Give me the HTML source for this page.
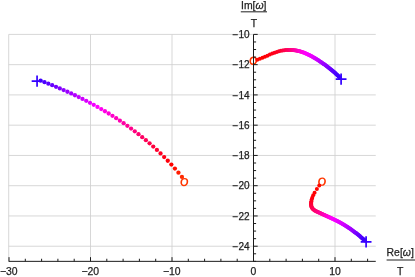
<!DOCTYPE html>
<html><head><meta charset="utf-8"><title>plot</title>
<style>
html,body{margin:0;padding:0;background:#fff;}
body{width:415px;height:277px;overflow:hidden;position:relative;font-family:"Liberation Sans",sans-serif;}
svg{position:absolute;left:0;top:0;display:block;will-change:transform;}
</style></head><body>
<svg width="415" height="277" viewBox="0 0 415 277">
<g stroke="#d0d0d0" stroke-width="0.85" fill="none">
<line x1="8.70" y1="34.40" x2="8.70" y2="261.35"/>
<line x1="90.50" y1="34.40" x2="90.50" y2="261.35"/>
<line x1="172.00" y1="34.40" x2="172.00" y2="261.35"/>
<line x1="335.00" y1="34.40" x2="335.00" y2="261.35"/>
<line x1="8.70" y1="246.22" x2="375.75" y2="246.22"/>
<line x1="8.70" y1="215.96" x2="375.75" y2="215.96"/>
<line x1="8.70" y1="185.70" x2="375.75" y2="185.70"/>
<line x1="8.70" y1="155.44" x2="375.75" y2="155.44"/>
<line x1="8.70" y1="125.18" x2="375.75" y2="125.18"/>
<line x1="8.70" y1="94.92" x2="375.75" y2="94.92"/>
<line x1="8.70" y1="64.66" x2="375.75" y2="64.66"/>
<line x1="8.70" y1="34.40" x2="375.75" y2="34.40"/>
</g>
<path d="M31.67 81.06H42.47M37.07 75.46V86.66" stroke="#3300ff" stroke-width="1.7" fill="none"/>
<path d="M-3.90 0A3.90 4.15 0 1 0 3.90 0A3.90 4.15 0 1 0 -3.90 0ZM-2.25 0A2.25 2.80 0 1 0 2.25 0A2.25 2.80 0 1 0 -2.25 0Z" fill-rule="evenodd" transform="translate(184.30 182.05) skewX(-6)" fill="#ff3600"/>
<circle cx="40.62" cy="80.71" r="2.15" fill="#4000ff"/>
<circle cx="44.49" cy="82.17" r="2.15" fill="#4d00ff"/>
<circle cx="48.34" cy="83.67" r="2.15" fill="#5900ff"/>
<circle cx="52.18" cy="85.21" r="2.15" fill="#6600ff"/>
<circle cx="56.00" cy="86.78" r="2.15" fill="#7300ff"/>
<circle cx="59.81" cy="88.40" r="2.15" fill="#8000ff"/>
<circle cx="63.61" cy="90.05" r="2.15" fill="#8d00ff"/>
<circle cx="67.39" cy="91.74" r="2.15" fill="#9a00ff"/>
<circle cx="71.17" cy="93.47" r="2.15" fill="#a600ff"/>
<circle cx="74.94" cy="95.25" r="2.15" fill="#b300ff"/>
<circle cx="78.71" cy="97.07" r="2.15" fill="#c000ff"/>
<circle cx="82.47" cy="98.94" r="2.15" fill="#cd00ff"/>
<circle cx="86.22" cy="100.86" r="2.15" fill="#da00ff"/>
<circle cx="89.97" cy="102.83" r="2.15" fill="#e600ff"/>
<circle cx="93.72" cy="104.85" r="2.15" fill="#f300ff"/>
<circle cx="97.47" cy="106.93" r="2.15" fill="#ff00fe"/>
<circle cx="101.21" cy="109.06" r="2.15" fill="#ff00f1"/>
<circle cx="104.95" cy="111.25" r="2.15" fill="#ff00e4"/>
<circle cx="108.69" cy="113.51" r="2.15" fill="#ff00d8"/>
<circle cx="112.43" cy="115.83" r="2.15" fill="#ff00cb"/>
<circle cx="116.17" cy="118.22" r="2.15" fill="#ff00be"/>
<circle cx="119.90" cy="120.68" r="2.15" fill="#ff00b1"/>
<circle cx="123.63" cy="123.22" r="2.15" fill="#ff00a4"/>
<circle cx="127.35" cy="125.83" r="2.15" fill="#ff0097"/>
<circle cx="131.07" cy="128.53" r="2.15" fill="#ff008b"/>
<circle cx="134.79" cy="131.31" r="2.15" fill="#ff007e"/>
<circle cx="138.50" cy="134.18" r="2.15" fill="#ff0071"/>
<circle cx="142.20" cy="137.14" r="2.15" fill="#ff0064"/>
<circle cx="145.89" cy="140.19" r="2.15" fill="#ff0057"/>
<circle cx="149.58" cy="143.35" r="2.15" fill="#ff004b"/>
<circle cx="153.25" cy="146.61" r="2.15" fill="#ff003e"/>
<circle cx="156.90" cy="149.97" r="2.15" fill="#ff0031"/>
<circle cx="160.54" cy="153.45" r="2.15" fill="#ff0024"/>
<circle cx="164.17" cy="157.05" r="2.15" fill="#ff0017"/>
<circle cx="167.77" cy="160.77" r="2.15" fill="#ff000b"/>
<circle cx="171.35" cy="164.61" r="2.15" fill="#ff0200"/>
<circle cx="174.91" cy="168.59" r="2.15" fill="#ff0f00"/>
<circle cx="178.44" cy="172.70" r="2.15" fill="#ff1c00"/>
<circle cx="181.94" cy="176.96" r="2.15" fill="#ff2900"/>
<path d="M-3.90 0A3.90 4.15 0 1 0 3.90 0A3.90 4.15 0 1 0 -3.90 0ZM-2.25 0A2.25 2.80 0 1 0 2.25 0A2.25 2.80 0 1 0 -2.25 0Z" fill-rule="evenodd" transform="translate(253.30 60.75) skewX(-6)" fill="#ff3600"/>
<path d="M335.70 79.10H346.50M341.10 73.50V84.70" stroke="#3300ff" stroke-width="1.7" fill="none"/>
<circle cx="257.27" cy="59.70" r="2.00" fill="#ff0900"/>
<circle cx="259.90" cy="58.83" r="2.00" fill="#ff0500"/>
<circle cx="262.47" cy="57.83" r="2.00" fill="#ff0100"/>
<circle cx="264.93" cy="56.78" r="2.00" fill="#ff0005"/>
<circle cx="267.39" cy="55.69" r="2.00" fill="#ff000b"/>
<circle cx="269.86" cy="54.60" r="2.00" fill="#ff0011"/>
<circle cx="272.25" cy="53.58" r="2.00" fill="#ff0017"/>
<circle cx="274.56" cy="52.67" r="2.00" fill="#ff001d"/>
<circle cx="276.81" cy="51.89" r="2.00" fill="#ff0022"/>
<circle cx="278.94" cy="51.27" r="2.00" fill="#ff0027"/>
<circle cx="280.86" cy="50.81" r="2.00" fill="#ff0032"/>
<circle cx="282.65" cy="50.47" r="2.00" fill="#ff003d"/>
<circle cx="284.30" cy="50.22" r="2.00" fill="#ff0048"/>
<circle cx="285.86" cy="50.06" r="2.00" fill="#ff0051"/>
<circle cx="287.27" cy="49.96" r="2.00" fill="#ff005a"/>
<circle cx="288.64" cy="49.91" r="2.00" fill="#ff0066"/>
<circle cx="289.91" cy="49.91" r="2.00" fill="#ff0071"/>
<circle cx="291.03" cy="49.94" r="2.00" fill="#ff007b"/>
<circle cx="292.15" cy="50.00" r="2.00" fill="#ff0085"/>
<circle cx="293.12" cy="50.08" r="2.00" fill="#ff008e"/>
<circle cx="294.09" cy="50.19" r="2.00" fill="#ff0097"/>
<circle cx="294.91" cy="50.30" r="2.00" fill="#ff009f"/>
<circle cx="295.73" cy="50.43" r="2.00" fill="#ff00a6"/>
<circle cx="296.50" cy="50.57" r="2.00" fill="#ff00ad"/>
<circle cx="297.31" cy="50.73" r="2.00" fill="#ff00b4"/>
<circle cx="298.08" cy="50.90" r="2.00" fill="#ff00bb"/>
<circle cx="298.88" cy="51.09" r="2.00" fill="#ff00c2"/>
<circle cx="299.64" cy="51.29" r="2.00" fill="#ff00c9"/>
<circle cx="300.39" cy="51.51" r="2.00" fill="#ff00d0"/>
<circle cx="301.19" cy="51.75" r="2.00" fill="#ff00d7"/>
<circle cx="301.94" cy="51.99" r="2.00" fill="#ff00de"/>
<circle cx="302.68" cy="52.25" r="2.00" fill="#ff00e6"/>
<circle cx="303.43" cy="52.52" r="2.00" fill="#ff00ea"/>
<circle cx="304.21" cy="52.82" r="2.00" fill="#ff00ee"/>
<circle cx="304.95" cy="53.11" r="2.00" fill="#ff00f3"/>
<circle cx="305.68" cy="53.41" r="2.00" fill="#ff00f7"/>
<circle cx="306.41" cy="53.73" r="2.00" fill="#ff00fc"/>
<circle cx="307.14" cy="54.05" r="2.00" fill="#fe00ff"/>
<circle cx="307.86" cy="54.39" r="2.00" fill="#fc00ff"/>
<circle cx="308.58" cy="54.73" r="2.00" fill="#f900ff"/>
<circle cx="309.30" cy="55.08" r="2.00" fill="#f600ff"/>
<circle cx="310.01" cy="55.45" r="2.00" fill="#f300ff"/>
<circle cx="310.72" cy="55.82" r="2.00" fill="#f100ff"/>
<circle cx="311.43" cy="56.20" r="2.00" fill="#ee00ff"/>
<circle cx="312.14" cy="56.58" r="2.00" fill="#eb00ff"/>
<circle cx="312.84" cy="56.98" r="2.00" fill="#e800ff"/>
<circle cx="313.54" cy="57.38" r="2.00" fill="#e600ff"/>
<circle cx="314.23" cy="57.79" r="2.00" fill="#e300ff"/>
<circle cx="314.88" cy="58.17" r="2.00" fill="#e000ff"/>
<circle cx="315.57" cy="58.59" r="2.00" fill="#dc00ff"/>
<circle cx="316.26" cy="59.01" r="2.00" fill="#d700ff"/>
<circle cx="316.94" cy="59.44" r="2.00" fill="#d200ff"/>
<circle cx="317.62" cy="59.87" r="2.00" fill="#cd00ff"/>
<circle cx="318.30" cy="60.31" r="2.00" fill="#c800ff"/>
<circle cx="318.97" cy="60.75" r="2.00" fill="#c300ff"/>
<circle cx="319.64" cy="61.19" r="2.00" fill="#be00ff"/>
<circle cx="320.30" cy="61.64" r="2.00" fill="#b900ff"/>
<circle cx="320.96" cy="62.08" r="2.00" fill="#b400ff"/>
<circle cx="321.62" cy="62.53" r="2.00" fill="#b000ff"/>
<circle cx="322.28" cy="62.99" r="2.00" fill="#ab00ff"/>
<circle cx="322.93" cy="63.44" r="2.00" fill="#a700ff"/>
<circle cx="323.58" cy="63.89" r="2.00" fill="#a200ff"/>
<circle cx="324.22" cy="64.35" r="2.00" fill="#9e00ff"/>
<circle cx="324.91" cy="64.84" r="2.00" fill="#9900ff"/>
<circle cx="325.54" cy="65.31" r="2.00" fill="#9500ff"/>
<circle cx="326.18" cy="65.77" r="2.00" fill="#9100ff"/>
<circle cx="326.81" cy="66.24" r="2.00" fill="#8c00ff"/>
<circle cx="327.48" cy="66.74" r="2.00" fill="#8700ff"/>
<circle cx="328.10" cy="67.22" r="2.00" fill="#8200ff"/>
<circle cx="328.72" cy="67.70" r="2.00" fill="#7e00ff"/>
<circle cx="329.38" cy="68.21" r="2.00" fill="#7900ff"/>
<circle cx="329.99" cy="68.70" r="2.00" fill="#7400ff"/>
<circle cx="330.60" cy="69.19" r="2.00" fill="#6f00ff"/>
<circle cx="331.24" cy="69.71" r="2.00" fill="#6a00ff"/>
<circle cx="331.85" cy="70.21" r="2.00" fill="#6600ff"/>
<circle cx="332.48" cy="70.74" r="2.00" fill="#6200ff"/>
<circle cx="333.08" cy="71.25" r="2.00" fill="#5e00ff"/>
<circle cx="333.67" cy="71.76" r="2.00" fill="#5a00ff"/>
<circle cx="334.29" cy="72.30" r="2.00" fill="#5700ff"/>
<circle cx="334.88" cy="72.82" r="2.00" fill="#5300ff"/>
<circle cx="335.46" cy="73.35" r="2.00" fill="#4f00ff"/>
<circle cx="336.07" cy="73.91" r="2.00" fill="#4c00ff"/>
<circle cx="336.65" cy="74.45" r="2.00" fill="#4800ff"/>
<circle cx="337.22" cy="74.98" r="2.00" fill="#4500ff"/>
<circle cx="337.82" cy="75.56" r="2.00" fill="#4200ff"/>
<circle cx="338.39" cy="76.11" r="2.00" fill="#4000ff"/>
<circle cx="338.95" cy="76.67" r="2.00" fill="#3d00ff"/>
<circle cx="339.50" cy="77.23" r="2.00" fill="#3b00ff"/>
<circle cx="340.05" cy="77.80" r="2.00" fill="#3800ff"/>
<path d="M-3.90 0A3.90 4.15 0 1 0 3.90 0A3.90 4.15 0 1 0 -3.90 0ZM-2.25 0A2.25 2.80 0 1 0 2.25 0A2.25 2.80 0 1 0 -2.25 0Z" fill-rule="evenodd" transform="translate(322.00 181.65) skewX(-6)" fill="#ff3600"/>
<path d="M360.70 241.80H371.50M366.10 236.20V247.40" stroke="#3300ff" stroke-width="1.7" fill="none"/>
<circle cx="319.25" cy="185.60" r="2.00" fill="#ff0900"/>
<circle cx="316.87" cy="189.07" r="2.00" fill="#ff0400"/>
<circle cx="314.59" cy="192.70" r="2.00" fill="#ff0001"/>
<circle cx="313.21" cy="195.37" r="2.00" fill="#ff0005"/>
<circle cx="312.28" cy="197.67" r="2.00" fill="#ff0009"/>
<circle cx="311.69" cy="199.58" r="2.00" fill="#ff0014"/>
<circle cx="311.34" cy="201.14" r="2.00" fill="#ff001d"/>
<circle cx="311.16" cy="202.41" r="2.00" fill="#ff0024"/>
<circle cx="311.08" cy="203.42" r="2.00" fill="#ff002a"/>
<circle cx="311.08" cy="204.23" r="2.00" fill="#ff002f"/>
<circle cx="311.13" cy="205.06" r="2.00" fill="#ff0034"/>
<circle cx="311.25" cy="205.82" r="2.00" fill="#ff003a"/>
<circle cx="311.44" cy="206.59" r="2.00" fill="#ff0040"/>
<circle cx="311.73" cy="207.35" r="2.00" fill="#ff0046"/>
<circle cx="312.11" cy="208.06" r="2.00" fill="#ff004c"/>
<circle cx="312.60" cy="208.70" r="2.00" fill="#ff0052"/>
<circle cx="313.17" cy="209.28" r="2.00" fill="#ff0058"/>
<circle cx="313.79" cy="209.78" r="2.00" fill="#ff005e"/>
<circle cx="314.42" cy="210.22" r="2.00" fill="#ff0064"/>
<circle cx="315.10" cy="210.63" r="2.00" fill="#ff006a"/>
<circle cx="315.81" cy="211.01" r="2.00" fill="#ff0070"/>
<circle cx="316.54" cy="211.38" r="2.00" fill="#ff0076"/>
<circle cx="317.28" cy="211.74" r="2.00" fill="#ff007c"/>
<circle cx="317.98" cy="212.07" r="2.00" fill="#ff0082"/>
<circle cx="318.72" cy="212.42" r="2.00" fill="#ff0088"/>
<circle cx="319.42" cy="212.75" r="2.00" fill="#ff008e"/>
<circle cx="320.16" cy="213.09" r="2.00" fill="#ff0094"/>
<circle cx="320.90" cy="213.43" r="2.00" fill="#ff009b"/>
<circle cx="321.59" cy="213.75" r="2.00" fill="#ff00a1"/>
<circle cx="322.33" cy="214.09" r="2.00" fill="#ff00a8"/>
<circle cx="323.06" cy="214.43" r="2.00" fill="#ff00ae"/>
<circle cx="323.80" cy="214.76" r="2.00" fill="#ff00b4"/>
<circle cx="324.53" cy="215.10" r="2.00" fill="#ff00bb"/>
<circle cx="325.26" cy="215.43" r="2.00" fill="#ff00c1"/>
<circle cx="325.99" cy="215.76" r="2.00" fill="#ff00c8"/>
<circle cx="326.72" cy="216.09" r="2.00" fill="#ff00cd"/>
<circle cx="327.45" cy="216.42" r="2.00" fill="#ff00d3"/>
<circle cx="328.18" cy="216.76" r="2.00" fill="#ff00d9"/>
<circle cx="328.90" cy="217.09" r="2.00" fill="#ff00df"/>
<circle cx="329.63" cy="217.42" r="2.00" fill="#ff00e4"/>
<circle cx="330.35" cy="217.76" r="2.00" fill="#ff00ea"/>
<circle cx="331.07" cy="218.09" r="2.00" fill="#ff00f0"/>
<circle cx="331.79" cy="218.43" r="2.00" fill="#ff00f5"/>
<circle cx="332.51" cy="218.77" r="2.00" fill="#ff00fb"/>
<circle cx="333.22" cy="219.11" r="2.00" fill="#fe00ff"/>
<circle cx="333.94" cy="219.45" r="2.00" fill="#fb00ff"/>
<circle cx="334.69" cy="219.82" r="2.00" fill="#f800ff"/>
<circle cx="335.40" cy="220.17" r="2.00" fill="#f600ff"/>
<circle cx="336.11" cy="220.52" r="2.00" fill="#f300ff"/>
<circle cx="336.82" cy="220.87" r="2.00" fill="#f000ff"/>
<circle cx="337.52" cy="221.23" r="2.00" fill="#ee00ff"/>
<circle cx="338.27" cy="221.62" r="2.00" fill="#eb00ff"/>
<circle cx="338.97" cy="221.99" r="2.00" fill="#e800ff"/>
<circle cx="339.67" cy="222.36" r="2.00" fill="#e500ff"/>
<circle cx="340.36" cy="222.74" r="2.00" fill="#e300ff"/>
<circle cx="341.06" cy="223.12" r="2.00" fill="#e000ff"/>
<circle cx="341.75" cy="223.50" r="2.00" fill="#dd00ff"/>
<circle cx="342.48" cy="223.92" r="2.00" fill="#db00ff"/>
<circle cx="343.17" cy="224.32" r="2.00" fill="#d800ff"/>
<circle cx="343.85" cy="224.72" r="2.00" fill="#d500ff"/>
<circle cx="344.54" cy="225.13" r="2.00" fill="#d100ff"/>
<circle cx="345.22" cy="225.55" r="2.00" fill="#cc00ff"/>
<circle cx="345.90" cy="225.97" r="2.00" fill="#c800ff"/>
<circle cx="346.58" cy="226.40" r="2.00" fill="#c300ff"/>
<circle cx="347.25" cy="226.84" r="2.00" fill="#bf00ff"/>
<circle cx="347.92" cy="227.28" r="2.00" fill="#ba00ff"/>
<circle cx="348.59" cy="227.72" r="2.00" fill="#b600ff"/>
<circle cx="349.26" cy="228.17" r="2.00" fill="#b200ff"/>
<circle cx="349.88" cy="228.60" r="2.00" fill="#ad00ff"/>
<circle cx="350.54" cy="229.05" r="2.00" fill="#a900ff"/>
<circle cx="351.20" cy="229.52" r="2.00" fill="#a400ff"/>
<circle cx="351.86" cy="229.98" r="2.00" fill="#a000ff"/>
<circle cx="352.51" cy="230.45" r="2.00" fill="#9b00ff"/>
<circle cx="353.16" cy="230.93" r="2.00" fill="#9500ff"/>
<circle cx="353.81" cy="231.41" r="2.00" fill="#9000ff"/>
<circle cx="354.45" cy="231.89" r="2.00" fill="#8b00ff"/>
<circle cx="355.09" cy="232.38" r="2.00" fill="#8600ff"/>
<circle cx="355.73" cy="232.87" r="2.00" fill="#8100ff"/>
<circle cx="356.33" cy="233.33" r="2.00" fill="#7c00ff"/>
<circle cx="356.96" cy="233.82" r="2.00" fill="#7700ff"/>
<circle cx="357.59" cy="234.32" r="2.00" fill="#7200ff"/>
<circle cx="358.21" cy="234.82" r="2.00" fill="#6d00ff"/>
<circle cx="358.83" cy="235.33" r="2.00" fill="#6800ff"/>
<circle cx="359.45" cy="235.83" r="2.00" fill="#6300ff"/>
<circle cx="360.06" cy="236.34" r="2.00" fill="#5f00ff"/>
<circle cx="360.71" cy="236.88" r="2.00" fill="#5a00ff"/>
<circle cx="361.32" cy="237.40" r="2.00" fill="#5600ff"/>
<circle cx="361.92" cy="237.91" r="2.00" fill="#5200ff"/>
<circle cx="362.52" cy="238.42" r="2.00" fill="#4d00ff"/>
<circle cx="363.12" cy="238.94" r="2.00" fill="#4900ff"/>
<circle cx="363.71" cy="239.46" r="2.00" fill="#4500ff"/>
<circle cx="364.34" cy="240.01" r="2.00" fill="#4100ff"/>
<circle cx="364.92" cy="240.53" r="2.00" fill="#3c00ff"/>
<g stroke="#1a1a1a" stroke-width="1.0" fill="none">
<line x1="8.70" y1="261.35" x2="375.75" y2="261.35"/>
<line x1="253.50" y1="34.40" x2="253.50" y2="261.35"/>
<line x1="9.00" y1="261.35" x2="9.00" y2="257.15"/>
<line x1="25.30" y1="261.35" x2="25.30" y2="258.75"/>
<line x1="41.60" y1="261.35" x2="41.60" y2="258.75"/>
<line x1="57.90" y1="261.35" x2="57.90" y2="258.75"/>
<line x1="74.20" y1="261.35" x2="74.20" y2="258.75"/>
<line x1="90.50" y1="261.35" x2="90.50" y2="257.15"/>
<line x1="106.80" y1="261.35" x2="106.80" y2="258.75"/>
<line x1="123.10" y1="261.35" x2="123.10" y2="258.75"/>
<line x1="139.40" y1="261.35" x2="139.40" y2="258.75"/>
<line x1="155.70" y1="261.35" x2="155.70" y2="258.75"/>
<line x1="172.00" y1="261.35" x2="172.00" y2="257.15"/>
<line x1="188.30" y1="261.35" x2="188.30" y2="258.75"/>
<line x1="204.60" y1="261.35" x2="204.60" y2="258.75"/>
<line x1="220.90" y1="261.35" x2="220.90" y2="258.75"/>
<line x1="237.20" y1="261.35" x2="237.20" y2="258.75"/>
<line x1="253.50" y1="261.35" x2="253.50" y2="257.15"/>
<line x1="269.80" y1="261.35" x2="269.80" y2="258.75"/>
<line x1="286.10" y1="261.35" x2="286.10" y2="258.75"/>
<line x1="302.40" y1="261.35" x2="302.40" y2="258.75"/>
<line x1="318.70" y1="261.35" x2="318.70" y2="258.75"/>
<line x1="335.00" y1="261.35" x2="335.00" y2="257.15"/>
<line x1="351.30" y1="261.35" x2="351.30" y2="258.75"/>
<line x1="367.60" y1="261.35" x2="367.60" y2="258.75"/>
<line x1="253.50" y1="261.35" x2="256.10" y2="261.35"/>
<line x1="253.50" y1="253.79" x2="256.10" y2="253.79"/>
<line x1="253.50" y1="246.22" x2="257.70" y2="246.22"/>
<line x1="253.50" y1="238.66" x2="256.10" y2="238.66"/>
<line x1="253.50" y1="231.09" x2="256.10" y2="231.09"/>
<line x1="253.50" y1="223.53" x2="256.10" y2="223.53"/>
<line x1="253.50" y1="215.96" x2="257.70" y2="215.96"/>
<line x1="253.50" y1="208.40" x2="256.10" y2="208.40"/>
<line x1="253.50" y1="200.83" x2="256.10" y2="200.83"/>
<line x1="253.50" y1="193.27" x2="256.10" y2="193.27"/>
<line x1="253.50" y1="185.70" x2="257.70" y2="185.70"/>
<line x1="253.50" y1="178.14" x2="256.10" y2="178.14"/>
<line x1="253.50" y1="170.57" x2="256.10" y2="170.57"/>
<line x1="253.50" y1="163.01" x2="256.10" y2="163.01"/>
<line x1="253.50" y1="155.44" x2="257.70" y2="155.44"/>
<line x1="253.50" y1="147.88" x2="256.10" y2="147.88"/>
<line x1="253.50" y1="140.31" x2="256.10" y2="140.31"/>
<line x1="253.50" y1="132.75" x2="256.10" y2="132.75"/>
<line x1="253.50" y1="125.18" x2="257.70" y2="125.18"/>
<line x1="253.50" y1="117.62" x2="256.10" y2="117.62"/>
<line x1="253.50" y1="110.05" x2="256.10" y2="110.05"/>
<line x1="253.50" y1="102.49" x2="256.10" y2="102.49"/>
<line x1="253.50" y1="94.92" x2="257.70" y2="94.92"/>
<line x1="253.50" y1="87.36" x2="256.10" y2="87.36"/>
<line x1="253.50" y1="79.79" x2="256.10" y2="79.79"/>
<line x1="253.50" y1="72.22" x2="256.10" y2="72.22"/>
<line x1="253.50" y1="64.66" x2="257.70" y2="64.66"/>
<line x1="253.50" y1="57.09" x2="256.10" y2="57.09"/>
<line x1="253.50" y1="49.53" x2="256.10" y2="49.53"/>
<line x1="253.50" y1="41.96" x2="256.10" y2="41.96"/>
<line x1="253.50" y1="34.40" x2="257.70" y2="34.40"/>
</g>
<g font-family="Liberation Sans, sans-serif" font-size="10.4" fill="#1e1e1e" stroke="#1e1e1e" stroke-width="0.25">
<text x="8.70" y="274.85" text-anchor="middle">−30</text>
<text x="90.20" y="274.85" text-anchor="middle">−20</text>
<text x="171.70" y="274.85" text-anchor="middle">−10</text>
<text x="253.50" y="274.85" text-anchor="middle">0</text>
<text x="335.00" y="274.85" text-anchor="middle">10</text>
<text x="249.55" y="249.97" text-anchor="end" font-size="10">−24</text>
<text x="249.55" y="219.71" text-anchor="end" font-size="10">−22</text>
<text x="249.55" y="189.45" text-anchor="end" font-size="10">−20</text>
<text x="249.55" y="159.19" text-anchor="end" font-size="10">−18</text>
<text x="249.55" y="128.93" text-anchor="end" font-size="10">−16</text>
<text x="249.55" y="98.67" text-anchor="end" font-size="10">−14</text>
<text x="249.55" y="68.41" text-anchor="end" font-size="10">−12</text>
<text x="249.55" y="38.15" text-anchor="end" font-size="10">−10</text>
</g>
<g font-family="Liberation Sans, sans-serif" font-size="10.4" fill="#1e1e1e" stroke="#1e1e1e" stroke-width="0.25">
<text x="253.8" y="8.5" text-anchor="middle">Im[<tspan font-style="italic">ω</tspan>]</text>
<text x="253.9" y="26.7" text-anchor="middle">T</text>
<text x="400.2" y="256.1" text-anchor="middle">Re[<tspan font-style="italic">ω</tspan>]</text>
<text x="400.2" y="274.6" text-anchor="middle">T</text>
</g>
<g stroke="#333" stroke-width="1.1" fill="none">
<line x1="240.8" y1="11.8" x2="267" y2="11.8"/>
<line x1="386.6" y1="260" x2="415" y2="260"/>
</g>
</svg>
</body></html>
